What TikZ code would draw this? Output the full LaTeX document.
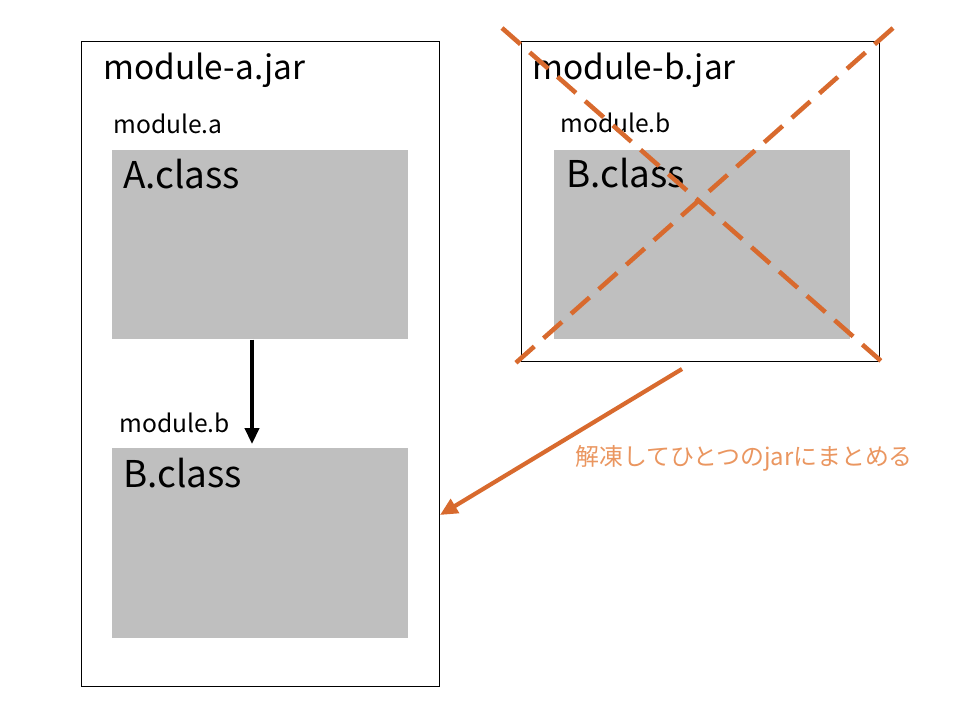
\documentclass[tikz,border=0pt]{standalone}
\usepackage{fontspec}
\setmainfont{Noto Sans CJK JP}
\usepackage{tikz}
\usetikzlibrary{arrows.meta,positioning,calc}
\definecolor{classgray}{RGB}{191,191,191}
\definecolor{crossorange}{RGB}{216,106,46}
\definecolor{noteorange}{RGB}{234,150,96}

\tikzset{
    jarbox/.style={draw, line width=0.6pt, anchor=north west, inner sep=0pt},
    classbox/.style={fill=classgray, anchor=north west, inner sep=0pt},
    jarname/.style={anchor=base west, inner sep=0pt, font=\fontsize{19}{23}\selectfont},
    pkgname/.style={anchor=base west, inner sep=0pt, font=\fontsize{14}{17}\selectfont},
    classname/.style={anchor=base west, inner sep=0pt, font=\fontsize{21}{25}\selectfont},
    cross/.style={crossorange, line width=2.6pt, dash pattern=on 14pt off 7pt},
}

\begin{document}
\begin{tikzpicture}[x=0.02cm, y=-0.02cm]
        \useasboundingbox (0, 0) rectangle (960, 720);
        % module-a.jar
        \node[jarbox, minimum width=7.16cm, minimum height=12.9cm] (jarA) at (81, 41) {};
        \node[jarname] (jarAname) at (103, 79) {module-a.jar};
        \node[pkgname] (pkgA) at (113, 133) {module.a};
        \node[classbox, minimum width=5.92cm, minimum height=3.78cm] (classA) at (112, 150) {};
        \node[classname] at (123, 188) {A.class};
        \node[pkgname] (pkgAB) at (119, 432) {module.b};
        \node[classbox, minimum width=5.92cm, minimum height=3.8cm] (classAB) at (112, 448) {};
        \node[classname] at (123, 487) {B.class};
        \draw[line width=2pt, -{Triangle[length=9pt, width=8pt]}] (classA.south -| 252, 0) -- ($(classAB.north -| 252, 0) + (0, -4)$);
        % module-b.jar
        \node[jarbox, minimum width=7.16cm, minimum height=6.4cm] (jarB) at (521, 41) {};
        \node[jarname] (jarBname) at (532, 79) {module-b.jar};
        \node[pkgname] (pkgB) at (560, 132) {module.b};
        \node[classbox, minimum width=5.92cm, minimum height=3.78cm] (classB) at (554, 150) {};
        \node[classname] at (566, 187) {B.class};
        \draw[cross] (502, 28) -- (889, 368);
        \draw[cross] (893, 28) -- (510, 368);
        % merge
        \coordinate (unpack) at (682, 369);
        \draw[crossorange, line width=2.4pt, -{Triangle[length=10pt, width=9pt]}] (unpack) -- (jarA.east |- 0, 515);
        \node[anchor=base west, inner sep=0pt, text=noteorange, font=\fontsize{13.6}{16}\selectfont] (note) at (575, 465) {解凍してひとつのjarにまとめる};
    \end{tikzpicture}
\end{document}
